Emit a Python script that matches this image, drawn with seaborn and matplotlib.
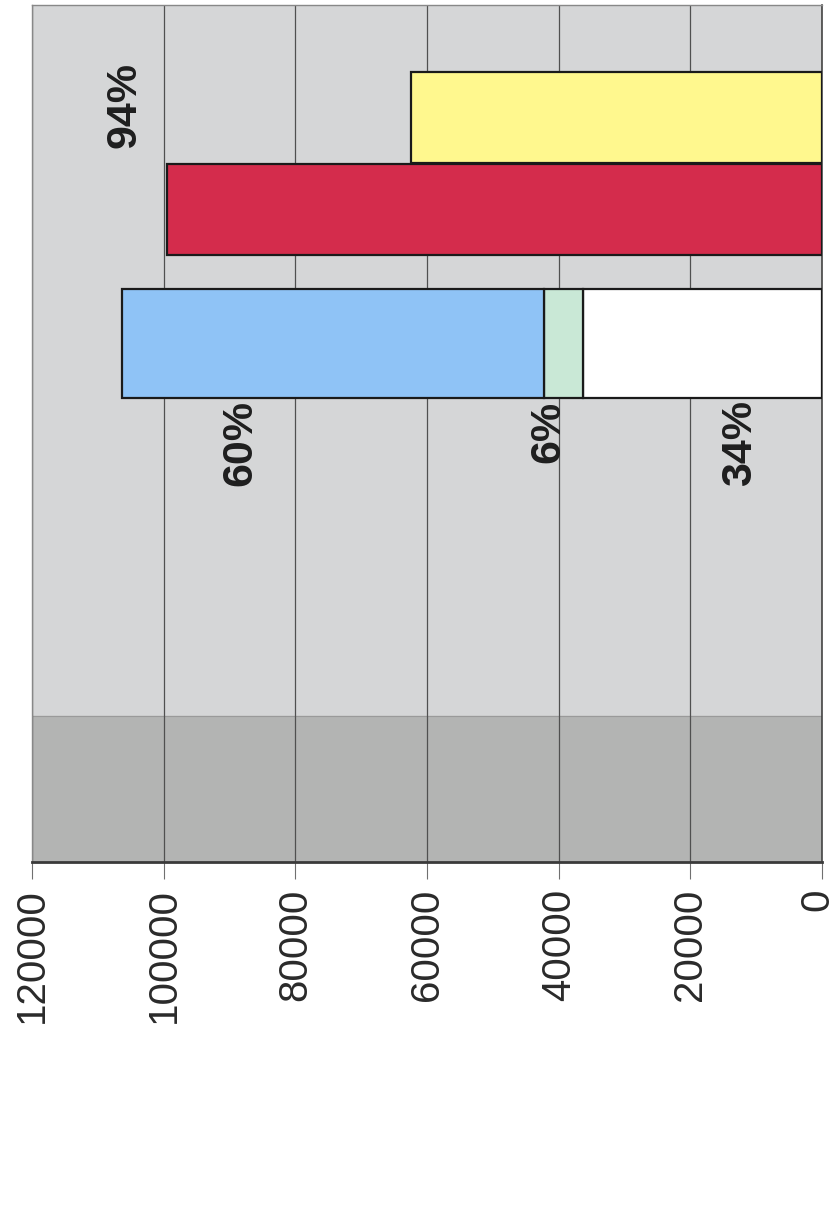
import numpy as np
import pandas as pd
import seaborn as sns
import matplotlib.pyplot as plt
import matplotlib.transforms as mtransforms

stack_names = ["base", "middle", "top"]
stack_values = [36300, 6000, 64100]
stack_colors = ["#ffffff", "#c9e8d6", "#8fc3f6"]

single_names = ["red", "yellow"]
single_values = [99500, 62500]
single_colors = ["#d42c4c", "#fff88e"]

pct_labels = ["34%", "6%", "60%", "94%"]
pct_x = [12500, 41600, 88400, 105900]

ticks = [0, 20000, 40000, 60000, 80000, 100000, 120000]

# layout (vertical positions, in axis units)
stack_center, stack_height = 518.5, 109
single_centers = [652.5, 745]
single_height = 91
pct_y = [419, 430, 419, 757]
floor_top = 146

sns.set_style("white")
plt.rcParams['font.family'] = ['Liberation Sans', 'DejaVu Sans']

fig = plt.figure(figsize=(8.34, 12.14), dpi=100)
ax = fig.add_axes([32 / 834, (1214 - 862) / 1214, 790 / 834, 857 / 1214])

ax.set_facecolor("#d5d6d7")
ax.axhspan(0, floor_top, color="#b3b4b3", zorder=0)
ax.axhline(floor_top, color="#9a9a9a", lw=0.8, zorder=0.5)

for t in ticks:
    ax.axvline(t, color="#505050", lw=0.9, zorder=1)

# stacked bar
df = pd.DataFrame({"name": stack_names, "value": stack_values, "color": stack_colors})
df["left"] = df["value"].cumsum() - df["value"]
for _, row in df.iterrows():
    ax.barh(stack_center, row["value"], left=row["left"], height=stack_height,
            color=row["color"], edgecolor="#1a1a1a", linewidth=1.6, zorder=3)

# single bars
for c, v, col in zip(single_centers, single_values, single_colors):
    ax.barh(c, v, height=single_height, color=col, edgecolor="#1a1a1a",
            linewidth=1.6, zorder=3)

for lab, x, y in zip(pct_labels, pct_x, pct_y):
    ax.text(x, y, lab, rotation=90, ha="center", va="center",
            fontsize=31, fontweight="bold", color="#1e1e1e", zorder=4)

ax.set_xlim(120000, 0)
ax.set_ylim(0, 857)
ax.set_yticks([])
ax.set_xticks(ticks)
ax.set_xticklabels([str(t) for t in ticks], rotation=90, fontsize=29,
                   color="#2a2a2a", va="top")
ax.tick_params(axis="x", direction="out", length=12, width=0.8,
               color="#707070", pad=7, bottom=True)

# the "0" label sits right at the page edge; nudge it in a touch
zero_lab = ax.get_xticklabels()[0]
zero_lab.set_transform(zero_lab.get_transform() +
                       mtransforms.ScaledTranslation(-5 / 100, 0, fig.dpi_scale_trans))

for side in ["top", "left"]:
    ax.spines[side].set_color("#888888")
    ax.spines[side].set_linewidth(1.0)
ax.spines["right"].set_color("#444444")
ax.spines["right"].set_linewidth(1.2)
ax.spines["bottom"].set_color("#3a3a3a")
ax.spines["bottom"].set_linewidth(2.0)

fig.savefig("out.png", dpi=100, facecolor="white")
